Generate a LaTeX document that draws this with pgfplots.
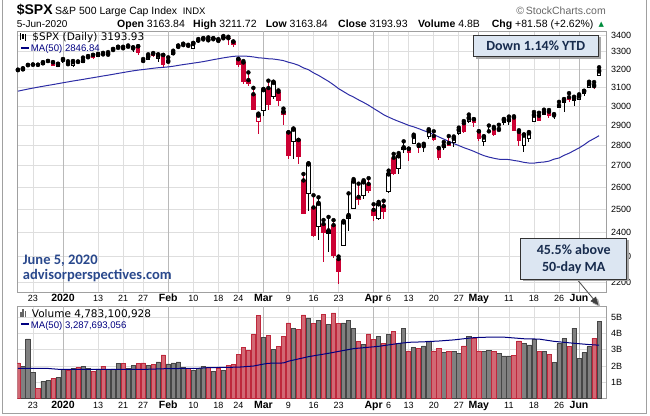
\documentclass[border=0pt]{standalone}
\usepackage{fontspec}
\setmainfont{Liberation Sans}
\newfontfamily\dejavu{DejaVu Sans}
\newfontfamily\calib{Carlito}
\usepackage{pgfplots}
\pgfplotsset{compat=1.18}
\usepackage{pgfplotstable}
\usetikzlibrary{arrows.meta}

\definecolor{cRed}{RGB}{204,0,51}
\definecolor{vRedFill}{RGB}{210,104,116}
\definecolor{vRedEdge}{RGB}{190,40,60}
\definecolor{vGrayFill}{RGB}{128,128,128}
\definecolor{vGrayEdge}{RGB}{70,70,70}
\definecolor{maBlue}{RGB}{45,45,165}
\definecolor{vmaBlue}{RGB}{0,0,128}
\definecolor{gridc}{RGB}{222,222,222}
\definecolor{gridm}{RGB}{185,185,185}
\definecolor{frameg}{RGB}{160,160,160}
\definecolor{boxFill}{RGB}{220,230,242}
\definecolor{boxText}{RGB}{23,43,77}
\definecolor{apBlue}{RGB}{41,72,140}
\definecolor{upGreen}{RGB}{0,140,60}

\newcommand{\fs}[1]{\fontsize{#1bp}{#1bp}\selectfont}
\newcommand{\mlab}[1]{{\fs{10.5}\bfseries #1}}

% daily OHLC, candle type t (0 up hollow, 1 up filled, 2 down hollow, 3 down filled), volume in billions
\pgfplotstableread{
i o h l c t v
0 3195.21 3198.48 3191.14 3191.14 3 2.19
1 3192.32 3205.48 3192.32 3205.37 0 2.00
2 3223.33 3225.65 3216.03 3221.22 1 3.68
3 3226.05 3227.78 3222.30 3224.01 1 1.63
4 3225.45 3226.43 3220.51 3223.38 3 0.62
5 3227.20 3240.08 3227.20 3239.91 0 1.06
6 3247.23 3247.93 3234.37 3240.02 1 1.13
7 3240.09 3240.92 3216.57 3221.29 3 1.24
8 3215.18 3231.72 3212.03 3230.78 0 1.30
9 3244.67 3258.14 3235.53 3257.85 0 1.79
10 3226.36 3246.15 3222.34 3234.85 2 1.75
11 3217.55 3246.84 3214.64 3246.28 0 1.85
12 3241.86 3244.91 3232.43 3237.18 3 1.93
13 3238.59 3267.07 3236.67 3253.05 0 1.98
14 3266.03 3275.58 3263.67 3274.70 0 1.83
15 3281.81 3282.99 3260.86 3265.35 3 1.64
16 3271.13 3288.13 3268.43 3288.13 0 1.82
17 3285.35 3294.25 3277.19 3283.15 3 1.99
18 3282.27 3298.66 3280.69 3289.29 0 1.79
19 3302.97 3317.11 3302.82 3316.81 0 1.82
20 3323.66 3329.88 3318.86 3329.62 0 2.18
21 3321.03 3329.79 3316.61 3320.79 3 2.18
22 3330.02 3337.77 3320.04 3321.75 1 1.85
23 3315.77 3326.88 3301.87 3325.54 0 2.06
24 3333.10 3333.18 3281.53 3295.47 3 2.15
25 3247.16 3258.85 3234.50 3243.63 3 2.19
26 3255.35 3285.78 3253.22 3276.24 0 2.02
27 3289.46 3293.47 3271.89 3273.40 3 2.12
28 3256.45 3285.91 3242.80 3283.66 0 2.25
29 3282.33 3282.33 3214.68 3225.52 3 2.69
30 3235.66 3268.44 3235.66 3248.92 0 2.13
31 3280.61 3306.92 3280.61 3297.59 0 2.19
32 3324.91 3337.58 3313.75 3334.69 0 2.25
33 3344.92 3347.96 3334.39 3345.78 0 1.91
34 3335.54 3341.42 3322.12 3327.71 3 1.85
35 3318.28 3352.26 3317.77 3352.09 0 1.75
36 3365.87 3375.63 3352.72 3357.75 1 1.84
37 3370.50 3381.47 3369.72 3379.45 0 1.97
38 3365.90 3385.09 3360.52 3373.94 2 1.90
39 3378.08 3380.69 3366.15 3380.16 0 1.68
40 3369.04 3375.01 3355.61 3370.29 2 1.85
41 3380.39 3393.52 3378.83 3386.15 0 1.73
42 3380.45 3389.15 3341.02 3373.23 3 2.04
43 3360.50 3360.76 3328.45 3337.75 3 2.10
44 3257.61 3259.81 3214.65 3225.89 3 2.73
45 3238.94 3246.99 3118.77 3128.21 3 3.17
46 3139.90 3182.51 3108.99 3116.39 3 2.98
47 3062.54 3097.07 2977.39 2978.76 3 3.94
48 2916.90 2959.72 2855.84 2954.22 2 5.13
49 2974.28 3090.96 2945.19 3090.23 0 3.79
50 3096.46 3136.72 2976.63 3003.37 3 3.88
51 3045.75 3130.97 3034.38 3130.12 0 3.04
52 3075.70 3083.04 2999.83 3023.94 3 3.23
53 2954.20 2985.93 2901.54 2972.37 2 3.85
54 2863.89 2863.89 2734.43 2746.56 3 4.67
55 2813.48 2882.59 2734.00 2882.23 0 4.35
56 2825.60 2825.60 2707.22 2741.38 3 4.25
57 2630.86 2660.95 2478.86 2480.64 3 5.17
58 2569.99 2711.33 2492.37 2711.02 0 4.98
59 2508.59 2562.98 2380.94 2386.13 3 4.63
60 2425.66 2553.93 2367.04 2529.19 0 4.83
61 2436.50 2453.57 2280.52 2398.10 3 5.18
62 2393.48 2466.97 2319.78 2409.39 0 4.56
63 2431.94 2453.01 2295.56 2304.92 3 5.29
64 2290.71 2300.73 2191.86 2237.40 3 4.63
65 2344.44 2449.71 2344.44 2447.33 0 4.67
66 2457.77 2571.42 2407.53 2475.56 0 4.85
67 2501.29 2637.01 2500.72 2630.07 0 4.35
68 2555.87 2615.91 2520.02 2541.47 3 3.53
69 2558.98 2631.80 2545.28 2626.65 0 3.35
70 2614.69 2641.39 2571.15 2584.59 3 3.99
71 2498.08 2522.75 2447.49 2470.50 3 3.66
72 2458.54 2533.22 2455.79 2526.90 0 3.86
73 2514.92 2538.18 2459.96 2488.65 3 3.42
74 2578.28 2676.85 2574.57 2663.68 0 3.98
75 2738.65 2756.89 2657.67 2659.41 3 4.17
76 2685.00 2760.75 2663.30 2749.98 0 3.39
77 2776.99 2818.57 2762.36 2789.82 0 4.35
78 2782.46 2782.46 2721.17 2761.63 3 2.94
79 2805.10 2851.85 2805.10 2846.06 0 3.17
80 2795.64 2801.88 2761.54 2783.36 3 3.07
81 2799.34 2806.51 2764.32 2799.55 0 3.25
82 2842.43 2879.22 2830.88 2874.56 0 3.56
83 2845.62 2868.98 2820.43 2823.16 3 2.94
84 2784.81 2785.54 2727.10 2736.56 3 3.10
85 2787.89 2815.10 2775.95 2799.31 0 2.83
86 2810.42 2844.90 2794.26 2797.80 3 2.90
87 2812.64 2842.71 2791.76 2836.74 0 2.92
88 2854.65 2887.72 2852.89 2878.48 0 2.79
89 2909.96 2921.15 2860.71 2863.39 3 3.25
90 2918.46 2954.86 2912.16 2939.51 0 3.83
91 2930.91 2930.91 2892.47 2912.43 3 3.73
92 2869.09 2869.09 2821.61 2830.71 3 2.94
93 2815.01 2844.24 2797.85 2842.74 0 2.88
94 2868.88 2898.23 2863.55 2868.44 1 2.98
95 2883.14 2891.11 2847.65 2848.42 3 2.88
96 2878.26 2901.92 2876.48 2881.19 0 2.79
97 2908.83 2932.16 2902.88 2929.80 0 2.63
98 2915.46 2944.25 2903.44 2930.32 0 2.63
99 2939.50 2945.82 2869.59 2870.12 3 2.67
100 2865.86 2874.14 2793.15 2820.00 3 3.56
101 2794.54 2852.80 2766.64 2852.50 0 3.38
102 2829.95 2865.01 2816.78 2863.70 0 3.31
103 2913.86 2968.09 2913.86 2953.91 0 3.67
104 2948.59 2964.21 2922.35 2922.94 3 2.92
105 2953.63 2980.29 2953.63 2971.61 0 2.90
106 2969.95 2978.50 2938.57 2948.51 3 2.73
107 2948.05 2956.76 2933.59 2955.45 0 2.21
108 3004.08 3021.72 2988.17 2991.77 1 3.38
109 3015.65 3036.25 2969.75 3036.13 0 3.69
110 3046.61 3068.67 3023.40 3029.73 3 3.19
111 3025.17 3049.17 2998.61 3044.31 0 4.35
112 3031.71 3062.18 3031.71 3055.73 0 2.48
113 3064.78 3081.07 3051.64 3080.82 0 2.83
114 3098.90 3130.94 3098.90 3122.87 0 3.19
115 3111.56 3128.91 3090.41 3112.35 2 3.73
116 3163.84 3211.72 3163.84 3193.93 0 4.78
}\ohlc

% 50-day simple moving average of the close
\pgfplotstableread{
i ma
0 3079.36
1 3085.08
2 3090.74
3 3095.82
4 3100.96
5 3105.85
6 3110.85
7 3115.32
8 3120.21
9 3125.23
10 3130.01
11 3134.85
12 3139.38
13 3143.99
14 3148.70
15 3153.27
16 3158.10
17 3163.01
18 3167.46
19 3172.23
20 3177.33
21 3182.21
22 3186.94
23 3191.59
24 3195.76
25 3198.79
26 3202.44
27 3205.97
28 3209.24
29 3211.30
30 3213.88
31 3217.66
32 3222.29
33 3226.99
34 3230.88
35 3235.11
36 3239.19
37 3243.96
38 3249.16
39 3254.90
40 3260.05
41 3265.43
42 3269.97
43 3274.01
44 3275.87
45 3275.61
46 3274.56
47 3270.76
48 3266.02
49 3263.97
50 3260.22
51 3258.71
52 3254.77
53 3249.73
54 3240.20
55 3233.04
56 3223.07
57 3208.26
58 3197.86
59 3180.43
60 3166.31
61 3149.35
62 3132.79
63 3113.83
64 3093.09
65 3076.73
66 3060.47
67 3047.41
68 3032.46
69 3018.65
70 3003.75
71 2986.75
72 2970.85
73 2954.11
74 2941.48
75 2929.79
76 2919.27
77 2909.60
78 2899.15
79 2891.57
80 2882.25
81 2872.29
82 2863.09
83 2852.64
84 2840.82
85 2829.76
86 2818.56
87 2807.71
88 2797.80
89 2787.46
90 2778.85
91 2769.37
92 2758.52
93 2748.62
94 2741.47
95 2735.88
96 2731.17
97 2730.19
98 2729.72
99 2725.31
100 2721.65
101 2716.09
102 2712.89
103 2712.52
104 2716.05
105 2717.83
106 2721.98
107 2731.47
108 2737.09
109 2750.09
110 2760.10
111 2773.02
112 2785.95
113 2801.47
114 2819.18
115 2832.48
116 2846.85
}\maprice

% 50-day average of volume, billions
\pgfplotstableread{
i ma
0 1.85
6 1.85
8 1.80
20 1.79
26 1.80
30 1.84
36 1.86
38 1.90
44 1.93
47 2.00
49 2.12
50 2.17
53 2.19
54 2.30
58 2.58
62 2.79
67 3.08
72 3.22
76 3.40
78 3.47
81 3.50
84 3.55
87 3.62
91 3.76
94 3.79
97 3.79
101 3.69
104 3.67
107 3.53
111 3.41
114 3.33
116 3.29
}\mavol

\pgfplotsset{
  panel/.style={
    scale only axis, width=588.7bp,
    xmin=-0.12, xmax=117.38,
    xtick={3,9,16,21,25,30,35,40,44,49,54,59,64,71,74,78,83,88,92,98,103,108,112},
    xticklabels={23,\mlab{2020},13,21,27,\mlab{Feb},10,18,24,\mlab{Mar},9,16,23,\mlab{Apr},6,13,20,27,\mlab{May},11,18,26,\mlab{Jun}},
    extra x ticks={9,30,49,71,92,112},
    extra x tick labels={},
    extra x tick style={grid=major, grid style={gridm, line width=0.8bp}},
    grid=major,
    grid style={gridc, line width=0.8bp},
    major tick length=0pt,
    axis line style={frameg, line width=0.8bp},
    yticklabel pos=right,
    tick label style={font=\fs{9}, text=black},
    xticklabel style={anchor=base, inner sep=0pt},
    yticklabel style={anchor=west, inner sep=0pt, xshift=5bp},
  },
  bar err/.style 2 args={only marks, mark=none, forget plot,
    error bars/y dir=minus, error bars/y explicit, error bars/error mark=none,
    error bars/error bar style={line width=#2, draw=#1, solid}},
  wick/.style={bar err={#1}{1bp}},
  body/.style={bar err={#1}{4.4bp}},
  inner/.style={bar err={white}{2.4bp}},
}

\begin{document}
\begin{tikzpicture}[x=1bp,y=1bp]
\useasboundingbox (0,0) rectangle (650,415);

% price panel
\begin{axis}[panel, at={(17.3bp,123bp)}, anchor=south west, height=261bp,
  ymode=log, ymin=2161.6, ymax=3424,
  ytick={2200,2300,2400,2500,2600,2700,2800,2900,3000,3100,3200,3300,3400},
  yticklabels={2200,2300,2400,2500,2600,2700,2800,2900,3000,3100,3200,3300,3400},
  xticklabel style={yshift=-9.6bp}]
  \addplot[maBlue, line width=1bp, mark=none] table[x=i, y=ma] {\maprice};
  % wicks
  \addplot[restrict expr to domain={\thisrow{t}}{0:1}, wick=black]
    table[x=i, y=h, y error minus expr=\thisrow{h}-\thisrow{l}] {\ohlc};
  \addplot[restrict expr to domain={\thisrow{t}}{2:3}, wick=cRed]
    table[x=i, y=h, y error minus expr=\thisrow{h}-\thisrow{l}] {\ohlc};
  % filled bodies (close below open)
  \addplot[restrict expr to domain={\thisrow{t}}{1:1}, body=black]
    table[x=i, y=o, y error minus expr={max(\thisrow{o}-\thisrow{c},0.0018*\thisrow{o})}] {\ohlc};
  \addplot[restrict expr to domain={\thisrow{t}}{3:3}, body=cRed]
    table[x=i, y=o, y error minus expr={max(\thisrow{o}-\thisrow{c},0.0018*\thisrow{o})}] {\ohlc};
  % hollow bodies (close above open)
  \addplot[restrict expr to domain={\thisrow{t}}{0:0}, body=black]
    table[x=i, y=c, y error minus expr={max(\thisrow{c}-\thisrow{o},0.0018*\thisrow{c})}] {\ohlc};
  \addplot[restrict expr to domain={\thisrow{t}}{2:2}, body=cRed]
    table[x=i, y=c, y error minus expr={max(\thisrow{c}-\thisrow{o},0.0018*\thisrow{c})}] {\ohlc};
  \addplot[restrict expr to domain={\thisrow{t}}{0:0}, inner]
    table[x=i, y expr=\thisrow{c}/1.0018, y error minus expr={max(\thisrow{c}/1.0018-1.0018*\thisrow{o},0)}] {\ohlc};
  \addplot[restrict expr to domain={\thisrow{t}}{2:2}, inner]
    table[x=i, y expr=\thisrow{c}/1.0018, y error minus expr={max(\thisrow{c}/1.0018-1.0018*\thisrow{o},0)}] {\ohlc};
\end{axis}

% volume panel
\begin{axis}[panel, at={(17.3bp,16.7bp)}, anchor=south west, height=92.3bp,
  ymin=0, ymax=5.72, ytick={1,2,3,4,5}, yticklabels={1B,2B,3B,4B,5B},
  xticklabel style={yshift=-10.3bp}]
  \addplot[ybar, bar width=4.2bp, bar shift=0pt, fill=vGrayFill, draw=vGrayEdge, line width=0.7bp,
    restrict expr to domain={\thisrow{t}}{0:1}] table[x=i, y=v] {\ohlc};
  \addplot[ybar, bar width=4.2bp, bar shift=0pt, fill=vRedFill, draw=vRedEdge, line width=0.7bp,
    restrict expr to domain={\thisrow{t}}{2:3}] table[x=i, y=v] {\ohlc};
  \addplot[vmaBlue, line width=1bp, mark=none] table[x=i, y=ma] {\mavol};
\end{axis}

% outer frame
\draw[frameg, line width=0.8bp] (2.7,415) -- (2.7,2) -- (646.5,2) -- (646.5,415);

% header
\node[anchor=base west, inner sep=0] at (16.6,400) {\fs{14}\bfseries \$SPX};
\node[anchor=base west, inner sep=0] at (55,400.5) {\fs{10.5}S\&P 500 Large Cap Index};
\node[anchor=base west, inner sep=0] at (182.6,400.5) {\fs{9.5}INDX};
\node[anchor=base east, inner sep=0, text=black!60] at (606,400.5) {\fs{10.5}\textcopyright\,StockCharts.com};
\node[anchor=base west, inner sep=0] at (16.6,387.5) {\fs{10}5-Jun-2020};
\node[anchor=base west, inner sep=0] at (117,387.5) {\fs{10.5}\textbf{Open} 3163.84};
\node[anchor=base west, inner sep=0] at (193,387.5) {\fs{10.5}\textbf{High} 3211.72};
\node[anchor=base west, inner sep=0] at (265.6,387.5) {\fs{10.5}\textbf{Low} 3163.84};
\node[anchor=base west, inner sep=0] at (338,387.5) {\fs{10.5}\textbf{Close} 3193.93};
\node[anchor=base west, inner sep=0] at (418,387.5) {\fs{10.5}\textbf{Volume} 4.8B};
\node[anchor=base west, inner sep=0] at (491.7,387.5) {\fs{10.5}\textbf{Chg} +81.58 (+2.62\%)};
\node[anchor=base west, inner sep=0, text=upGreen] at (598.5,388) {\dejavu\fs{7}▲};

% price legend
\node[anchor=base west, inner sep=0] at (20,375) {\rule{0.8bp}{7bp}\hspace{0.6bp}\rule[1bp]{2.4bp}{5bp}\hspace{0.6bp}\rule[-0.5bp]{0.8bp}{7bp}};
\node[anchor=base west, inner sep=0] at (32.3,374.5) {\dejavu\fs{10.5}\$SPX (Daily) 3193.93};
\node[anchor=base west, inner sep=0, text=vmaBlue] at (20.7,363.5) {\rule[2.6bp]{8.6bp}{2bp}\hspace{1.4bp}\fs{9.6}MA(50) 2846.84};

% volume legend
\node[anchor=base west, inner sep=0, text=black!60] at (20,97.7) {\rule{1.6bp}{5bp}\hspace{0.6bp}\rule{1.6bp}{8bp}\hspace{0.6bp}\rule{1.6bp}{6bp}};
\node[anchor=base west, inner sep=0] at (31.7,97.7) {\dejavu\fs{10.5}Volume 4,783,100,928};
\node[anchor=base west, inner sep=0, text=vmaBlue] at (20.7,87) {\rule[2.6bp]{8.6bp}{2bp}\hspace{1.4bp}\fs{9.6}MA(50) 3,287,693,056};

% date and source
\node[anchor=base west, inner sep=0, text=apBlue] at (22.7,151) {\calib\bfseries\fs{14.5}June 5, 2020};
\node[anchor=base west, inner sep=0, text=apBlue] at (22.7,135.5) {\calib\bfseries\fs{14.5}advisorperspectives.com};

% year-to-date callout
\fill[black!35] (475.5,356.3) rectangle (600.5,378);
\draw[fill=boxFill, draw=black!80, line width=0.8bp] (473.3,358.3) rectangle (598.3,380);
\node[text=boxText] at (535.8,369.2) {\calib\bfseries\fs{14}Down 1.14\% YTD};

% distance-from-average callout
\draw[black!30, line width=0.8bp, -{Triangle[length=8bp,width=7bp]}] (578.7,134) -- (600.3,108);
\draw[black!75, line width=0.6bp, -{Triangle[length=8bp,width=7bp]}] (576.7,136) -- (598.3,110);
\fill[black!35] (522.7,134) rectangle (628.7,175);
\draw[fill=boxFill, draw=black!80, line width=0.8bp] (520.7,136) rectangle (626.7,177);
\node[text=boxText] at (573.7,165) {\calib\bfseries\fs{14}45.5\% above};
\node[text=boxText] at (573.7,147.3) {\calib\bfseries\fs{14}50-day MA};
\end{tikzpicture}
\end{document}
